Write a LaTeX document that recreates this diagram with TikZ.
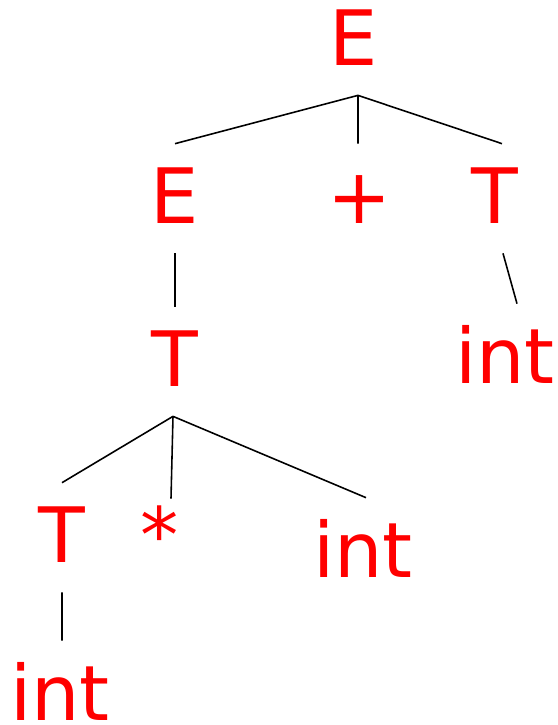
\documentclass[tikz,border=0pt]{standalone}
\usepackage{fontspec}
\setmainfont{DejaVu Sans}
\tikzset{
  sym/.style={text=red, font=\fontsize{43.5}{50}\selectfont, anchor=base,
    inner xsep=0pt, inner ysep=0.6cm, text height=0.98cm, text depth=0pt},
  edge/.style={draw=black, line width=0.9pt}
}
\begin{document}
\begin{tikzpicture}[x=0.02cm,y=-0.02cm]

\useasboundingbox (0,0) rectangle (558,725);

\node[sym] (E0) at (354,65) {E};
\node[sym] (E1) at (175,223) {E};
\node[sym] (P) at (360,223) {+};
\node[sym] (T1) at (495,223) {T};
\node[sym] (T2) at (175,386) {T};
\node[sym] (I1) at (505,383) {int};
\node[sym] (T3) at (62,562) {T};
\node[sym,text height=0.66cm] (S) at (160,562) {*};
\node[sym] (I2) at (363,577) {int};
\node[sym] (I3) at (60,720) {int};

\draw[edge] ([xshift=0.08cm]E0.south) -- (E1.north);
\draw[edge] ([xshift=0.08cm]E0.south) -- ([xshift=-0.04cm]P.north);
\draw[edge] ([xshift=0.08cm]E0.south) -- ([xshift=0.14cm]T1.north);

\draw[edge] (E1.south) -- (T2.north);
\draw[edge] ([xshift=0.16cm]T1.south) -- ([xshift=0.24cm]I1.north);

\draw[edge] ([xshift=-0.04cm]T2.south) -- (T3.north);
\draw[edge] ([xshift=-0.04cm]T2.south) -- ([xshift=0.22cm]S.north);
\draw[edge] ([xshift=-0.04cm]T2.south) -- ([xshift=0.06cm]I2.north);

\draw[edge] (T3.south) -- ([xshift=0.04cm]I3.north);

\end{tikzpicture}
\end{document}
